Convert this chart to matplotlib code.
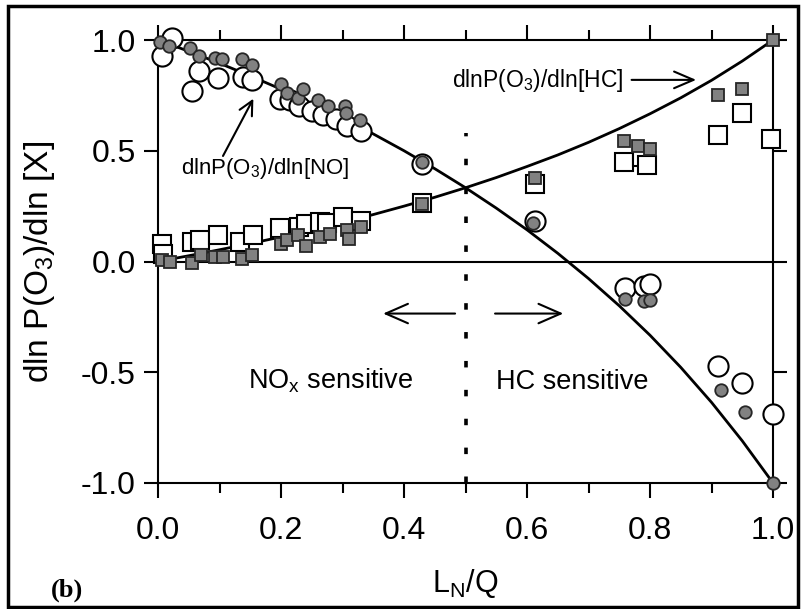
import matplotlib
matplotlib.use("Agg")
import matplotlib.pyplot as plt
import numpy as np
from matplotlib.patches import Rectangle

# data
# model curves (solid lines)
curve_x = [0.0, 0.05, 0.1, 0.15, 0.2, 0.25, 0.3, 0.35, 0.4, 0.45, 0.5,
           0.55, 0.6, 0.65, 0.7, 0.75, 0.8, 0.85, 0.9, 0.95, 1.0]
curve_hc = [0.0, 0.026, 0.053, 0.081, 0.111, 0.143, 0.176, 0.212, 0.25, 0.29, 0.333,
            0.379, 0.429, 0.481, 0.538, 0.6, 0.667, 0.739, 0.818, 0.905, 1.0]
curve_no = [1.0, 0.949, 0.895, 0.838, 0.778, 0.714, 0.647, 0.576, 0.5, 0.419, 0.333,
            0.241, 0.143, 0.037, -0.077, -0.2, -0.333, -0.478, -0.636, -0.81, -1.0]

# NO sensitivity, open circles
no_open_x = [0.006, 0.022, 0.055, 0.066, 0.098, 0.138, 0.153, 0.198, 0.215, 0.23, 0.25,
             0.268, 0.29, 0.308, 0.33, 0.43, 0.613, 0.76, 0.79, 0.80, 0.91, 0.95, 1.0]
no_open_y = [0.93, 1.01, 0.77, 0.86, 0.83, 0.835, 0.82, 0.735, 0.73, 0.70, 0.68,
             0.66, 0.645, 0.61, 0.59, 0.44, 0.185, -0.12, -0.11, -0.10, -0.47, -0.55, -0.69]

# NO sensitivity, filled circles
no_fill_x = [0.003, 0.018, 0.052, 0.066, 0.093, 0.104, 0.137, 0.153, 0.20, 0.21, 0.228,
             0.236, 0.26, 0.277, 0.304, 0.306, 0.328, 0.43, 0.61, 0.76, 0.79, 0.80,
             0.915, 0.955, 1.0]
no_fill_y = [0.99, 0.975, 0.965, 0.93, 0.92, 0.915, 0.915, 0.885, 0.80, 0.76, 0.74,
             0.78, 0.73, 0.70, 0.70, 0.67, 0.64, 0.45, 0.175, -0.17, -0.18, -0.175,
             -0.58, -0.68, -1.0]

# HC sensitivity, open squares
hc_open_x = [0.006, 0.008, 0.055, 0.068, 0.098, 0.133, 0.155, 0.198, 0.23, 0.24, 0.263,
             0.275, 0.30, 0.33, 0.43, 0.613, 0.757, 0.787, 0.795, 0.91, 0.95, 0.997]
hc_open_y = [0.08, 0.035, 0.086, 0.095, 0.12, 0.086, 0.12, 0.15, 0.155, 0.17, 0.18,
             0.175, 0.20, 0.185, 0.265, 0.35, 0.45, 0.47, 0.435, 0.57, 0.67, 0.555]

# HC sensitivity, filled squares
hc_fill_x = [0.006, 0.02, 0.055, 0.07, 0.093, 0.105, 0.137, 0.153, 0.20, 0.21, 0.228,
             0.24, 0.263, 0.28, 0.307, 0.31, 0.33, 0.43, 0.613, 0.757, 0.78, 0.80,
             0.91, 0.95, 1.0]
hc_fill_y = [0.005, 0.0, -0.005, 0.03, 0.02, 0.02, 0.01, 0.03, 0.08, 0.095, 0.12,
             0.07, 0.11, 0.125, 0.14, 0.10, 0.155, 0.26, 0.375, 0.545, 0.52, 0.51,
             0.75, 0.78, 1.0]

x_ticks = [0.0, 0.2, 0.4, 0.6, 0.8, 1.0]
x_minor = [0.1, 0.3, 0.5, 0.7, 0.9]
y_ticks = [-1.0, -0.5, 0.0, 0.5, 1.0]

# fonts
plt.rcParams['font.family'] = ['Liberation Sans', 'DejaVu Sans']
plt.rcParams['mathtext.fontset'] = 'custom'
plt.rcParams['mathtext.rm'] = 'Liberation Sans'
plt.rcParams['mathtext.it'] = 'Liberation Sans:italic'
plt.rcParams['axes.unicode_minus'] = False

fig = plt.figure(figsize=(8.05, 6.09), dpi=100)
ax = fig.add_axes([0.1963, 0.2069, 0.764, 0.7274])

gray = '#828282'
dark = '#262626'

# 1. curves
ax.plot(curve_x, curve_hc, color='black', lw=2.0, zorder=2)
ax.plot(curve_x, curve_no, color='black', lw=2.0, zorder=2)

# 2. markers (open first, filled on top)
ax.plot(no_open_x, no_open_y, 'o', ms=14.5, mfc='white', mec='black', mew=1.5,
        clip_on=False, zorder=3)
ax.plot(hc_open_x, hc_open_y, 's', ms=13.5, mfc='white', mec='black', mew=1.5,
        clip_on=False, zorder=3)
ax.plot(no_fill_x, no_fill_y, 'o', ms=9, mfc=gray, mec=dark, mew=1.3,
        clip_on=False, zorder=4)
ax.plot(hc_fill_x, hc_fill_y, 's', ms=9, mfc=gray, mec=dark, mew=1.3,
        clip_on=False, zorder=4)

# 3. zero line and dividing dotted line
ax.axhline(0, color='black', lw=1.5, zorder=1)
ax.plot([0.5, 0.5], [-1.0, 0.58], color='black', lw=2.6,
        linestyle=(0, (1.8, 6.2)), zorder=1)

# 4. axes
ax.set_xlim(0, 1)
ax.set_ylim(-1, 1)
ax.set_xticks(x_ticks)
ax.set_xticks(x_minor, minor=True)
ax.set_yticks(y_ticks)
ax.set_xticklabels([f'{v:.1f}' for v in x_ticks])
ax.set_yticklabels([f'{v:.1f}' for v in y_ticks])
for s in ax.spines.values():
    s.set_linewidth(1.5)
ax.tick_params(axis='x', which='major', direction='out', top=True, bottom=True,
               length=11, width=1.5, labelsize=23, pad=13)
ax.tick_params(axis='x', which='minor', direction='out', top=True, bottom=True,
               length=7, width=1.5)
ax.tick_params(axis='y', which='major', direction='out', left=True, right=True,
               length=10, width=1.5, labelsize=23, pad=6)

ax.set_xlabel('L$_{\\mathrm{N}}$/Q', fontsize=22)
ax.xaxis.set_label_coords(0.5, -0.19)
ax.set_ylabel('dln P(O$_3$)/dln [X]', fontsize=24)
ax.yaxis.set_label_coords(-0.165, 0.5)

# 5. annotations
ax.annotate('dlnP(O$_3$)/dln[NO]', xy=(0.155, 0.735), xytext=(0.174, 0.42),
            fontsize=16, ha='center', va='center',
            arrowprops=dict(arrowstyle='->,head_length=0.5,head_width=0.25',
                            lw=1.5, color='black', mutation_scale=20,
                            shrinkA=0, shrinkB=0, patchA=None,
                            relpos=(0.25, 1.0)))
ax.text(0.618, 0.817, 'dlnP(O$_3$)/dln[HC]', fontsize=16.5, ha='center', va='center')
ax.annotate('', xy=(0.875, 0.82), xytext=(0.77, 0.82),
            arrowprops=dict(arrowstyle='->,head_length=0.7,head_width=0.3',
                            lw=1.5, color='black', mutation_scale=20,
                            shrinkA=0, shrinkB=0))
ax.annotate('', xy=(0.366, -0.235), xytext=(0.483, -0.235),
            arrowprops=dict(arrowstyle='->,head_length=0.8,head_width=0.35',
                            lw=1.5, color='black', mutation_scale=20,
                            shrinkA=0, shrinkB=0))
ax.annotate('', xy=(0.659, -0.235), xytext=(0.548, -0.235),
            arrowprops=dict(arrowstyle='->,head_length=0.8,head_width=0.35',
                            lw=1.5, color='black', mutation_scale=20,
                            shrinkA=0, shrinkB=0))
ax.text(0.28, -0.575, 'NO$_\\mathrm{x}$ sensitive', fontsize=19.5, ha='center', va='baseline')
ax.text(0.673, -0.575, 'HC sensitive', fontsize=19.5, ha='center', va='baseline')

# panel label and outer frame
fig.text(67 / 805, 1 - 590 / 609, '(b)', fontsize=19, fontweight='bold',
         family='Liberation Serif', ha='center', va='center')
fig.patches.append(Rectangle((8 / 805, 2 / 609), 790 / 805, 601 / 609,
                             transform=fig.transFigure, fill=False,
                             edgecolor='black', lw=2.5))

plt.savefig('out.png', dpi=100)
